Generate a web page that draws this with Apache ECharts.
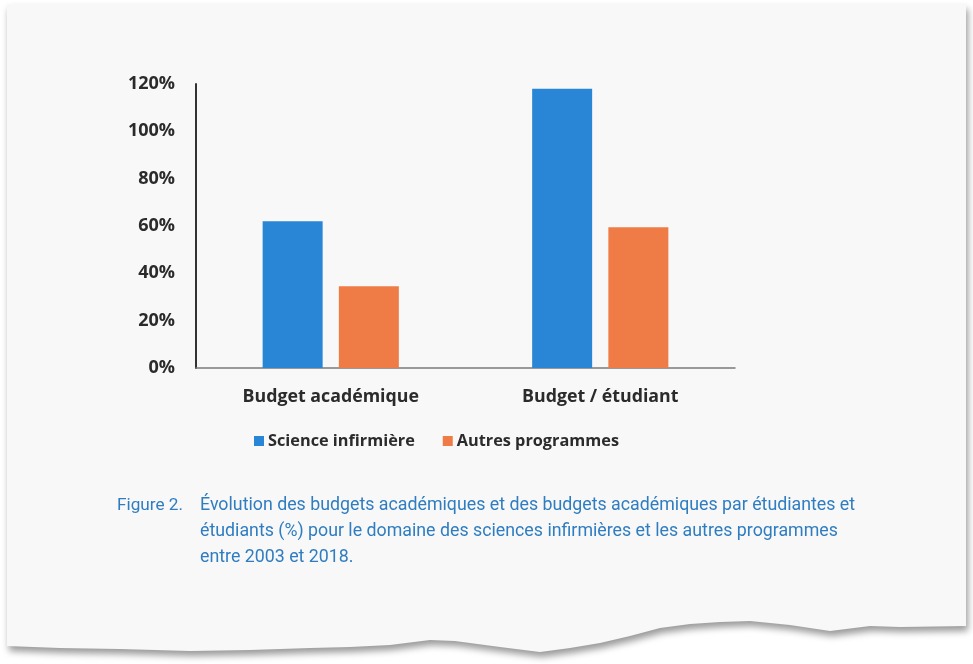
<!DOCTYPE html>
<html>
<head>
<meta charset="utf-8">
<script src="https://cdn.jsdelivr.net/npm/echarts@6/dist/echarts.min.js"></script>
<style>
html,body{margin:0;padding:0;background:#ffffff;}
#chart{width:973px;height:664px;}
</style>
</head>
<body>
<div id="chart"></div>
<script>
var categories = ['Budget académique', 'Budget / étudiant'];
var scienceInfirmiere = [62, 118];
var autresProgrammes = [34.5, 59.5];
var seriesNames = ['Science infirmière', 'Autres programmes'];
var captionLines = [
  'Évolution des budgets académiques et des budgets académiques par étudiantes et',
  'étudiants (%) pour le domaine des sciences infirmières et les autres programmes',
  'entre 2003 et 2018.'
];
var captionLabel = 'Figure 2.';

var FONT = '"Open Sans", Roboto, sans-serif';
var CAPFONT = 'Roboto, "Open Sans", sans-serif';
var chart = echarts.init(document.getElementById('chart'), null, {renderer: 'canvas'});

var paperPoints = [
  [7, 4], [966, 4], [966, 626], [900, 627], [870, 626], [830, 631], [790, 625],
  [750, 621], [720, 622], [690, 624], [660, 628], [630, 636], [600, 643],
  [570, 648], [540, 652], [500, 647], [455, 641], [430, 640], [390, 645],
  [350, 647], [310, 648], [250, 650], [190, 651], [120, 649], [60, 648], [7, 646]
];

var graphics = [
  {
    type: 'polygon', z: -10, silent: true,
    shape: {points: paperPoints},
    style: {fill: '#f8f8f8', shadowBlur: 7, shadowColor: 'rgba(0,0,0,0.4)', shadowOffsetX: 2, shadowOffsetY: 5}
  },
  {
    type: 'text', left: 117, top: 497, silent: true,
    style: {text: captionLabel, fill: '#2f7dc0', font: '17.2px ' + CAPFONT}
  }
];
captionLines.forEach(function (t, i) {
  graphics.push({
    type: 'text', left: 200, top: 497 + i * 26, silent: true,
    style: {text: t, fill: '#2f7dc0', font: '17.8px ' + CAPFONT}
  });
});

chart.setOption({
  backgroundColor: 'transparent',
  animation: false,
  textStyle: {fontFamily: FONT},
  grid: {left: 196, right: 238, top: 84, bottom: 296, containLabel: false},
  legend: {
    left: 254, top: 433, padding: 0,
    itemWidth: 10, itemHeight: 10, itemGap: 28,
    icon: 'rect',
    textStyle: {fontFamily: FONT, fontWeight: 'bold', fontSize: 16.3, color: '#2b2b2b', padding: [0, 0, 0, -1]},
    data: seriesNames
  },
  xAxis: {
    type: 'category',
    data: categories,
    axisLine: {lineStyle: {color: '#7a7a7a', width: 1.5}},
    axisTick: {show: false},
    axisLabel: {fontFamily: FONT, fontWeight: 'bold', fontSize: 17.8, color: '#2b2b2b', margin: 20}
  },
  yAxis: {
    type: 'value',
    min: 0, max: 120, interval: 20,
    axisLine: {show: true, lineStyle: {color: '#333333', width: 2}},
    axisTick: {show: false},
    splitLine: {show: false},
    axisLabel: {fontFamily: FONT, fontWeight: 'bold', fontSize: 18, color: '#2b2b2b', margin: 21, formatter: '{value}%'}
  },
  series: [
    {name: seriesNames[0], type: 'bar', data: scienceInfirmiere, barWidth: 60, barGap: '27%', itemStyle: {color: '#2986d6'}},
    {name: seriesNames[1], type: 'bar', data: autresProgrammes, barWidth: 60, barGap: '27%', itemStyle: {color: '#ef7c47'}}
  ],
  graphic: graphics
});
</script>
</body>
</html>
